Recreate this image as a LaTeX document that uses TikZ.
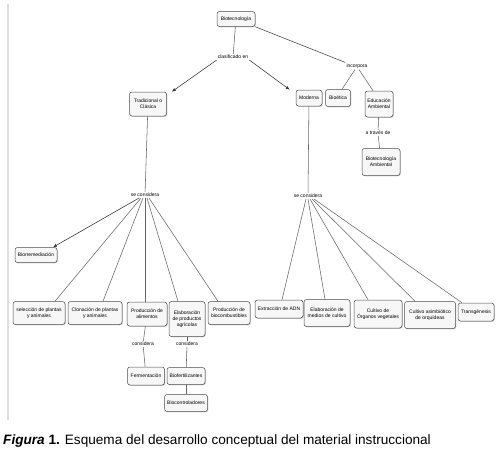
\documentclass[tikz,border=0pt]{standalone}
\usepackage{fontspec}
\setmainfont{Liberation Sans}
\usetikzlibrary{arrows.meta,shadows,calc}
\tikzset{
  cbox/.style={draw=black!70, line width=0.5pt, rounded corners=2.5pt, fill=gray!6,
    font=\fontsize{5}{5.8}\selectfont, align=center, inner sep=0.5pt,
    drop shadow={opacity=0.35, shadow xshift=0.8pt, shadow yshift=-0.8pt}},
  lbl/.style={font=\fontsize{5}{5.8}\selectfont, inner sep=1pt, fill=white},
  conn/.style={draw=black!60, line width=0.55pt},
  arr/.style={conn, draw=black!80, -{Latex[length=4pt,width=3.2pt]}},
}
\begin{document}
\begin{tikzpicture}[x=1pt,y=-1pt]
\useasboundingbox (0,0) rectangle (496,455);
\draw[gray!25, line width=1.6pt] (8,4) -- (8,420);
% nodes
\node[cbox, minimum width=38pt, minimum height=15pt] (bio) at (236,19) {Biotecnología};
\node[cbox, minimum width=37pt, minimum height=24pt] (trad) at (148,104) {Tradicional o\\Clásica};
\node[cbox, minimum width=26pt, minimum height=16pt] (mod) at (309,98) {Moderna};
\node[cbox, minimum width=25pt, minimum height=17pt] (bioet) at (338,98) {Bioética};
\node[cbox, minimum width=28pt, minimum height=26pt] (edu) at (379,104) {Educación\\Ambiental};
\node[cbox, minimum width=38pt, minimum height=27pt] (bioamb) at (381,162) {Biotecnología\\Ambiental};
\node[cbox, minimum width=42pt, minimum height=15pt] (biorr) at (36,255) {Biorremediación};
\node[cbox, minimum width=52pt, minimum height=23pt] (sel) at (39,313) {selección de plantas\\y animales};
\node[cbox, minimum width=54pt, minimum height=23pt] (clon) at (95,313) {Clonación de plantas\\y animales};
\node[cbox, minimum width=40pt, minimum height=24pt] (palim) at (147,314) {Producción de\\alimentos};
\node[cbox, minimum width=36pt, minimum height=35pt] (elab) at (187,319) {Elaboración\\de productos\\agrícolas};
\node[cbox, minimum width=42pt, minimum height=23pt] (pbio) at (229,313) {Producción de\\biocombustibles};
\node[cbox, minimum width=37pt, minimum height=18pt] (ferm) at (146,376) {Fermentación};
\node[cbox, minimum width=38pt, minimum height=17pt] (biof) at (186,376) {Biofertilizantes};
\node[cbox, minimum width=43pt, minimum height=17pt] (bioc) at (186,403) {Biocontroladores};
\node[cbox, minimum width=48pt, minimum height=18pt] (adn) at (279,309) {Extracción de ADN};
\node[cbox, minimum width=46pt, minimum height=27pt] (emed) at (327,313) {Elaboración de\\medios de cultivo};
\node[cbox, minimum width=48pt, minimum height=28pt] (corg) at (378,314) {Cultivo de\\Órganos vegetales};
\node[cbox, minimum width=51pt, minimum height=27pt] (casim) at (430,315) {Cultivo asimbiótico\\de orquídeas};
\node[cbox, minimum width=36pt, minimum height=18pt] (trans) at (476,312) {Transgénesis};
% labels
\node[lbl] (clasif) at (233,57) {clasificado en};
\node[lbl] (incorp) at (357,66) {incorpora};
\node[lbl] (atrav) at (378,133) {a través de};
\node[lbl] (secL) at (145,195) {se considera};
\node[lbl] (secR) at (308,196) {se considera};
\node[lbl] (consA) at (143,344) {considera};
\node[lbl] (consB) at (187,344) {considera};
% connectors
\draw[conn] (bio) -- (clasif);
\draw[arr] (clasif.south west) -- ([xshift=5pt]trad.north east);
\draw[arr] (clasif.south east) -- ([xshift=-6pt]mod.north west);
\draw[conn, draw=black!75] (bio.south east) -- (incorp.north west);
\draw[conn] ([xshift=-2pt]incorp.south) -- ([xshift=4pt]bioet.north);
\draw[conn] ([xshift=2pt]incorp.south) -- ([xshift=-6pt]edu.north);
\draw[conn] (edu) -- (atrav);
\draw[conn] (atrav) -- (bioamb);
\draw[conn] (trad) -- (secL);
\draw[arr] ([xshift=-6pt]secL.south) -- ([xshift=17pt]biorr.north);
\draw[conn] ([xshift=-4pt]secL.south) -- ([xshift=16pt]sel.north);
\draw[conn] ([xshift=-2pt]secL.south) -- ([xshift=8pt]clon.north);
\draw[conn] ([xshift=0pt]secL.south) -- ([xshift=-2pt]palim.north);
\draw[conn] ([xshift=2pt]secL.south) -- ([xshift=-9pt]elab.north);
\draw[conn] ([xshift=4pt]secL.south) -- ([xshift=-11pt]pbio.north);
\draw[conn] (mod) -- (secR);
\draw[conn] ([xshift=-2pt]secR.south) -- ([xshift=3pt]adn.north);
\draw[conn] ([xshift=0pt]secR.south) -- ([xshift=-2pt]emed.north);
\draw[conn] ([xshift=2pt]secR.south) -- ([xshift=-10pt]corg.north);
\draw[conn] ([xshift=4pt]secR.south) -- ([xshift=-15pt]casim.north);
\draw[conn] ([xshift=6pt]secR.south) -- ([xshift=-14pt]trans.north);
\draw[conn] (palim) -- (consA);
\draw[conn] (consA) -- (ferm);
\draw[conn] (elab) -- (consB);
\draw[conn] (consB) -- (biof);
\draw[conn] (biof) -- (bioc);
% caption
\node[anchor=west, inner sep=0pt, font=\fontsize{13.6}{15}\selectfont] (cap) at (3,441)
  {\textbf{\textit{Figura}} \textbf{1.} Esquema del desarrollo conceptual del material instruccional};
\end{tikzpicture}
\end{document}
